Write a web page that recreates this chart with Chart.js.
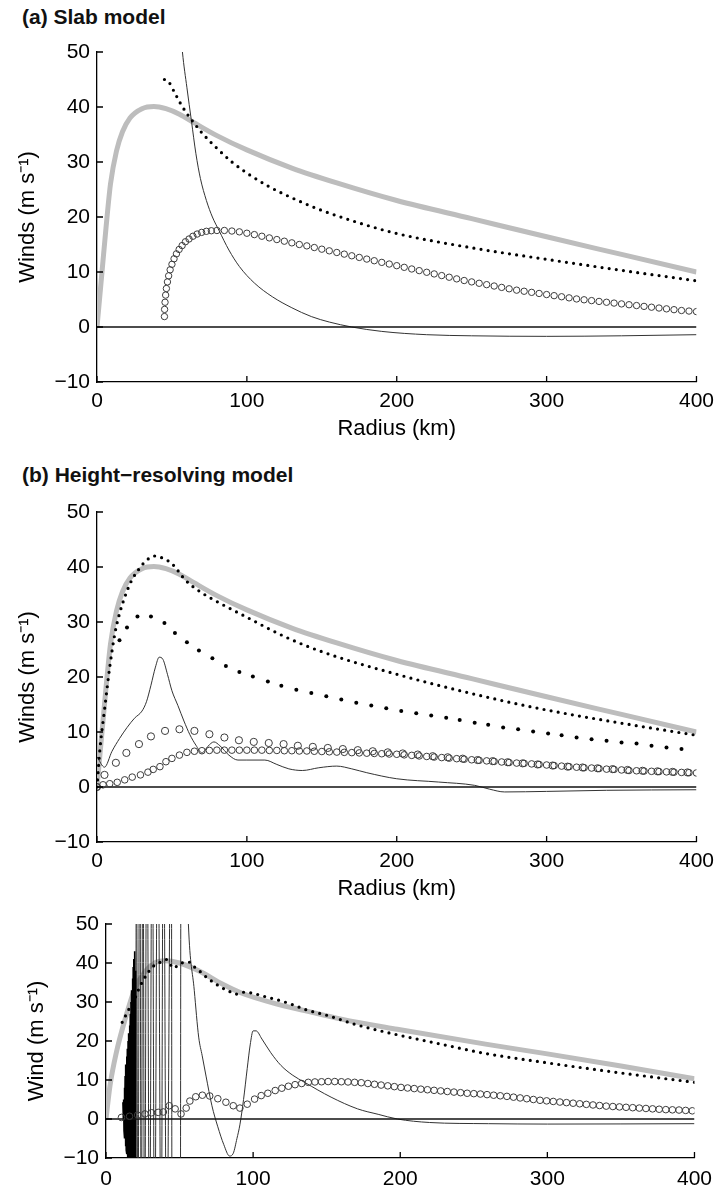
<!DOCTYPE html>
<html>
<head>
<meta charset="utf-8">
<script src="https://cdn.jsdelivr.net/npm/chart.js@4.4.1/dist/chart.umd.min.js"></script>
<style>
  html, body { margin: 0; padding: 0; background: #fff; }
  body { width: 721px; height: 1189px; position: relative; overflow: hidden; font-family: "Liberation Sans", Arial, sans-serif; }
  canvas { position: absolute; left: 0; }
  .ptitle { position: absolute; left: 22px; font-weight: bold; font-size: 21px; line-height: 24px; color: #111; white-space: nowrap; }
</style>
</head>
<body>
<div class="ptitle" style="top:5px">(a) Slab model</div>
<div class="ptitle" style="top:463px">(b) Height−resolving model</div>
<canvas id="slabChart" width="721" height="442" style="top:0;width:721px;height:442px"></canvas>
<canvas id="heightChart" width="721" height="460" style="top:442px;width:721px;height:460px"></canvas>
<canvas id="fullChart" width="721" height="287" style="top:902px;width:721px;height:287px"></canvas>
<script>
// axis ticks
var radiusTicks = [0, 100, 200, 300, 400];
var windTicks = [-10, 0, 10, 20, 30, 40, 50];

// ---- (a) slab model : [radius km, wind m/s]
var slabGrey = [[0,0],[3,9],[6,18],[9,26],[13,32],[17,35.5],[22,38],[30,39.7],[38,40.1],[46,39.7],[55,38.7],[65,37.1],[80,34.8],[100,32.2],[130,28.9],[160,26.2],[200,23],[250,19.7],[300,16.4],[350,13.2],[400,10]];
var slabDots = [[45,45],[48,44.5],[52,42.5],[56,40.5],[60,38.8],[65,37],[70,35.3],[80,32.5],[90,30],[100,28],[115,25.5],[134,23],[150,21.2],[174,19],[200,17],[250,14.4],[300,12.3],[350,10.3],[400,8.4]];
var slabCircles = [[45,1.9],[45.1,3.2],[45.4,4.5],[45.8,5.8],[46.3,7.0],[47,8.2],[47.8,9.3],[48.8,10.4],[50,11.4],[51.4,12.4],[53,13.3],[54.8,14.1],[56.8,14.8],[59,15.5],[61.4,16.0],[64,16.5],[66.8,16.9],[69.8,17.2],[73,17.4],[76.3,17.5],
  [80,17.55],[85,17.55],[90,17.45],[95,17.3],[100,17.05],[105,16.8],[110,16.5],[115,16.2],[120,15.9],[125,15.6],[130,15.3],[135,15.0],[140,14.75],[145,14.45],[150,14.15],[155,13.85],[160,13.55],[165,13.25],[170,12.95],[175,12.65],
  [180,12.35],[185,12.05],[190,11.75],[195,11.45],[200,11.15],[205,10.85],[210,10.55],[215,10.25],[220,9.95],[225,9.65],[230,9.35],[235,9.05],[240,8.75],[245,8.45],[250,8.2],[255,7.95],[260,7.7],[265,7.45],[270,7.2],[275,6.95],
  [280,6.7],[285,6.5],[290,6.3],[295,6.1],[300,5.9],[305,5.7],[310,5.5],[315,5.3],[320,5.1],[325,4.95],[330,4.8],[335,4.65],[340,4.5],[345,4.35],[350,4.2],[355,4.05],[360,3.9],[365,3.75],[370,3.6],[375,3.45],
  [380,3.3],[385,3.15],[390,3.0],[395,2.9],[400,2.8]];
var slabThin = [[54,60],[57,50],[60,43.5],[63,37.5],[66,31.5],[69,27],[73,23],[77,20],[81.5,17.5],[88,14],[95,11],[105,8],[117,5.5],[130,3.5],[143,1.9],[155,0.9],[170,0],[190,-0.8],[220,-1.4],[250,-1.6],[300,-1.7],[350,-1.6],[400,-1.4]];

// ---- (b) height-resolving model
var hrGrey = slabGrey;
var hrDots = [[0,0],[2,7],[5,14],[8.6,22],[12,28],[15,31.5],[18.5,34.5],[23,37.5],[28.5,39.8],[33,41.2],[38.5,42],[44,41.6],[50,40.6],[59.4,37.5],[70,35.3],[81.5,33.5],[99,31],[125.6,27.3],[150,24.6],[200,20.5],[256,16.6],[300,14],[350,11.6],[400,9.4]];
var hrSparseDots = [[15,26.7],[20,29],[27,31],[36,31],[45,29.8],[52,28],[60,26.3],[68,24.8],[77,23.4],[86,22],[95,20.9],[104,20.1],[114,19.2],[123,18.4],[133,17.7],[143,17.1],[153,16.5],[163,15.9],[173,15.3],[183,14.8],[193,14.3],
  [203,13.8],[213,13.4],[223,13.0],[233,12.6],[242,12.2],[252,11.7],[261,11.3],[271,10.8],[281,10.5],[291,10.1],[301,9.75],[310,9.4],[320,9.0],[330,8.7],[340,8.4],[350,8.1],[360,7.9],[370,7.5],[380,7.2],[390,6.9]];
var hrBigCircles = [[0,0],[5,2.2],[12.6,4.4],[19.6,6.2],[28,7.8],[36,9.2],[45.4,10.2],[55,10.5],[65,10.2],[75,9.6],[85,9.0],[94.7,8.5],[104.6,8.2],[114.6,8.0],[124.5,7.8],[134,7.5],[144,7.3],[154,7.1],[164,6.9],[174,6.7],[184,6.5],
  [194,6.3],[204,6.1],[214,5.9],[224,5.6],[234,5.4],[244,5.15],[254,4.9],[264,4.7],[274,4.5],[284,4.3],[294,4.1],[304,3.9],[314,3.7],[324,3.55],[334,3.4],[344,3.25],[354,3.1],[364,2.95],[374,2.85],[384,2.75],[394,2.65]];
var hrSmallCircles = [[0,0],[4,0.4],[8.5,0.6],[13.5,0.85],[18.5,1.3],[23.5,1.8],[29,2.2],[34,2.7],[37.5,3.2],[42,3.7],[46,4.6],[50,5.2],[55,5.8],[60,6.3],[65,6.5],[70,6.6],[75,6.65],[80,6.7],
  [85,6.7],[90,6.7],[95,6.7],[100,6.7],[105,6.7],[110,6.7],[115,6.65],[120,6.65],[125,6.6],[130,6.6],[135,6.55],[140,6.55],[145,6.5],[150,6.45],[155,6.4],[160,6.35],[165,6.3],[170,6.25],[175,6.2],[180,6.15],
  [185,6.1],[190,6.05],[195,6.0],[200,5.95],[205,5.85],[210,5.75],[215,5.65],[220,5.55],[225,5.45],[230,5.35],[235,5.25],[240,5.15],[245,5.05],[250,4.95],[255,4.85],[260,4.75],[265,4.65],[270,4.55],[275,4.45],
  [280,4.35],[285,4.3],[290,4.2],[295,4.1],[300,4.0],[305,3.9],[310,3.8],[315,3.7],[320,3.6],[325,3.5],[330,3.45],[335,3.35],[340,3.25],[345,3.2],[350,3.1],[355,3.0],[360,2.95],[365,2.9],[370,2.85],[375,2.8],
  [380,2.75],[385,2.7],[390,2.65],[395,2.6],[400,2.55]];
var hrThin = [[0,5.5],[5,3.6],[10,6.5],[15,8.8],[20,10.8],[25,12.5],[30,13.8],[33,15.5],[36,18.5],[39,21.8],[41.5,23.6],[44,23.2],[47,20.5],[50,17.5],[54,14.8],[58,12],[62,9.5],[66,7.6],[70,6.2],[74,7.4],[78,8.2],[82,7.5],
  [88,5.8],[94,4.9],[100,4.9],[112,4.9],[120,4.1],[128,3.3],[137,3.0],[148,3.5],[160,3.8],[170,3.3],[180,2.6],[200,1.5],[228,0.9],[252,0.3],[262,-0.4],[272,-0.9],[300,-0.8],[340,-0.6],[400,-0.5]];

// ---- (c) third panel
var fullGrey = [[0,0],[2.7,8.5],[7,17],[13,25.6],[19.5,33.3],[27,38],[34,40.2],[40,40.6],[50,40],[63,38],[79,34.6],[92,32.3],[115,29.6],[135,27.8],[160,25.6],[198,23],[258,19.2],[300,16.7],[350,13.6],[400,10.3]];
var fullDots = [[11,24.8],[14,27],[17,29.2],[20,31.2],[22.6,33.6],[25.5,35.7],[29.3,37.9],[32.6,39.3],[37,40.2],[41,40.9],[46,38.7],[50,39.8],[56.5,40.2],[60,39],[65,37.5],[69,36.1],[74,34.8],[78.5,33.7],[83.5,32.8],
  [88,32.0],[93.5,32.5],[99,32.3],[108,31.4],[118,30.4],[127,29.3],[136,28],[150,26.6],[170,24.2],[191,22.2],[230,19],[258,16.8],[298,14.5],[350,11.8],[400,9.4]];
var fullCircles = [[10.5,0.4],[16,0.7],[21.5,1.0],[26.5,1.3],[31,1.6],[35.5,1.7],[39,1.8],[43,3.4],[47,2.6],[51,1.3],[54.5,2.8],[57,4.6],[61,5.7],[65.5,6.1],[70.5,5.9],[76,5.2],[81.5,4.3],[86.5,3.4],[91,2.8],[96,3.8],
  [101,5.1],[105.5,6.0],[110,6.6],[115,7.3],[119.5,7.9],[124,8.4],[128.5,8.8],[133,9.1],[137.5,9.4],[142,9.5],[146.5,9.55],[151,9.6],[155.5,9.6],[160,9.55],[164.5,9.5],[169,9.4],[173.5,9.3],[178,9.1],[182.5,8.9],
  [187,8.7],[191.5,8.5],[196,8.3],[200.5,8.1],[205,7.95],[209.5,7.8],[214,7.65],[218.5,7.5],[223,7.35],[227.5,7.2],[232,7.05],[236.5,6.9],[241,6.75],[245.5,6.6],[250,6.5],[254.5,6.4],[259,6.25],[263.5,6.1],
  [268,5.95],[272.5,5.8],[277,5.6],[281.5,5.4],[286,5.2],[290.5,5.0],[295,4.8],[299.5,4.65],[304,4.5],[308.5,4.35],[313,4.2],[317.5,4.05],[322,3.9],[326.5,3.75],[331,3.6],[335.5,3.45],[340,3.3],[344.5,3.2],
  [349,3.1],[353.5,3.0],[358,2.9],[362.5,2.8],[367,2.7],[371.5,2.6],[376,2.5],[380.5,2.4],[385,2.35],[389.5,2.3],[394,2.2],[398.5,2.1]];
// dense oscillation near the centre (drawn heavier, it shows as a solid spike)
var fullNoise = [[11.5,4.3],[11.8,0],[12,5],[12.25,-3],[12.5,8],[12.75,-5],[13,11],[13.25,-7],[13.5,14],[13.75,-8],[14,16],[14.25,-9],[14.5,18],[14.75,-10],[15,20],[15.25,-12],[15.5,22],[15.75,-12],
  [16,24],[16.25,-12],[16.5,27],[16.75,-12],[17,30],[17.25,-12],[17.5,33],[17.75,-12],[18,36],[18.25,-12],[18.5,39],[18.75,-12],[19,41],[19.25,-12],[19.5,43],[19.75,-12],[20,38],[20.3,-12]];
// spikes beyond the plot range, then the smooth tail
var fullThin = [[20.3,-12],[20.6,90],[21.7,-40],[22.9,90],[24,-40],[25.1,90],[26.2,-40],[27.8,90],[29.6,-40],[31.4,90],[33,-40],[35.2,90],[37.5,-40],[39,90],[41.2,-40],[44.4,90],[44.9,-40],[50.5,-40],[51,90],[53,90],
  [56,50],[60,33],[63,21],[65.4,16.2],[68,11],[72,3.4],[76,-2],[80,-6.5],[84,-9.5],[86.5,-8.8],[89,-5],[91,-1.5],[93.5,5],[96,13],[98,19],[100,22.6],[102,22.6],[106,20.5],[112,17],[119,13.7],[127,11.2],
  [135,9.4],[153,5.6],[171,2.6],[185,1.2],[198,0],[220,-0.9],[260,-1.2],[300,-1.3],[400,-1.2]];
var zeroLine = [[0,0],[400,0]];

function pts(pairs) {
  return pairs.map(function (p) { return { x: p[0], y: p[1] }; });
}

var fontFamily = '"Liberation Sans", Arial, sans-serif';
var tickFont = { family: fontFamily, size: 21 };
var titleFont = { family: fontFamily, size: 22 };
Chart.defaults.color = '#000';

function lineSet(pairs, color, width, extra) {
  return Object.assign({
    data: pts(pairs), showLine: true, borderColor: color, borderWidth: width,
    pointRadius: 0, fill: false, cubicInterpolationMode: 'monotone'
  }, extra || {});
}
function dotSet(pairs) {
  return lineSet(pairs, '#000', 3.2, { borderDash: [0, 7.2], borderCapStyle: 'round' });
}
function circleSet(pairs, radius) {
  return { data: pts(pairs), showLine: false, pointRadius: radius, pointBorderWidth: 1,
    pointBorderColor: '#3c3c3c', pointBackgroundColor: 'rgba(255,255,255,0)' };
}

// short tick marks pointing into the plot
var inwardTicks = {
  id: 'inwardTicks',
  afterDatasetsDraw: function (chart) {
    var ctx = chart.ctx, area = chart.chartArea, xs = chart.scales.x, ys = chart.scales.y;
    ctx.save();
    ctx.strokeStyle = '#000';
    ctx.lineWidth = 1.3;
    ctx.beginPath();
    windTicks.forEach(function (v) {
      var py = ys.getPixelForValue(v);
      ctx.moveTo(area.left, py); ctx.lineTo(area.left + 6, py);
    });
    radiusTicks.forEach(function (r) {
      var px = xs.getPixelForValue(r);
      ctx.moveTo(px, area.bottom); ctx.lineTo(px, area.bottom - 6);
    });
    ctx.stroke();
    ctx.restore();
  }
};

function panelOptions(p) {
  return {
    responsive: false,
    animation: false,
    events: [],
    layout: { padding: { left: p.padLeft, top: p.padTop, right: 20, bottom: 0 } },
    plugins: { legend: { display: false }, tooltip: { enabled: false } },
    scales: {
      x: {
        type: 'linear', min: 0, max: 400,
        border: { display: true, color: '#000', width: 1.3 },
        grid: { display: true, drawOnChartArea: false, drawTicks: false },
        ticks: { stepSize: 100, padding: p.xTickPad, font: tickFont, maxRotation: 0 },
        title: { display: !!p.xTitle, text: p.xTitle || '', font: titleFont, padding: 0 },
        afterFit: function (scale) { scale.height = p.xHeight; }
      },
      y: {
        type: 'linear', min: -10, max: 50,
        border: { display: true, color: '#000', width: 1.3 },
        grid: { display: true, drawOnChartArea: false, drawTicks: false },
        ticks: { stepSize: 10, padding: 7, font: tickFont,
          callback: function (v) { return String(v).replace('-', '\u2212'); } },
        title: { display: true, text: p.yTitle, font: titleFont, padding: 0 },
        afterFit: function (scale) { scale.width = p.yWidth; }
      }
    }
  };
}

new Chart(document.getElementById('slabChart'), {
  type: 'scatter',
  data: {
    datasets: [
      dotSet(slabDots),
      circleSet(slabCircles, 3.2),
      lineSet(zeroLine, '#111', 1.5),
      lineSet(slabThin, '#333', 1, { clip: 0 }),
      lineSet(slabGrey, '#bdbdbd', 5)
    ]
  },
  options: panelOptions({ padLeft: 15, padTop: 52, yWidth: 82, xHeight: 60, xTickPad: 7,
    xTitle: 'Radius (km)', yTitle: 'Winds (m s\u207B\u00B9)' }),
  plugins: [inwardTicks]
});

new Chart(document.getElementById('heightChart'), {
  type: 'scatter',
  data: {
    datasets: [
      dotSet(hrDots),
      { data: pts(hrSparseDots), showLine: false, pointRadius: 2, pointBorderWidth: 0, pointBackgroundColor: '#000' },
      circleSet(hrBigCircles, 3.6),
      circleSet(hrSmallCircles, 3.3),
      lineSet(zeroLine, '#111', 1.5),
      lineSet(hrThin, '#333', 1, { clip: 0 }),
      lineSet(hrGrey, '#bdbdbd', 5)
    ]
  },
  options: panelOptions({ padLeft: 15, padTop: 70, yWidth: 82, xHeight: 60, xTickPad: 7,
    xTitle: 'Radius (km)', yTitle: 'Winds (m s\u207B\u00B9)' }),
  plugins: [inwardTicks]
});

new Chart(document.getElementById('fullChart'), {
  type: 'scatter',
  data: {
    datasets: [
      dotSet(fullDots),
      circleSet(fullCircles, 3.3),
      lineSet(zeroLine, '#111', 1.5),
      lineSet(fullNoise, '#000', 1.6, { clip: 0, cubicInterpolationMode: 'default', tension: 0 }),
      lineSet(fullThin, '#333', 1, { clip: 0 }),
      lineSet(fullGrey, '#bdbdbd', 5)
    ]
  },
  options: panelOptions({ padLeft: 24, padTop: 22, yWidth: 82, xHeight: 31, xTickPad: 9,
    xTitle: '', yTitle: 'Wind (m s\u207B\u00B9)' }),
  plugins: [inwardTicks]
});
</script>
</body>
</html>
